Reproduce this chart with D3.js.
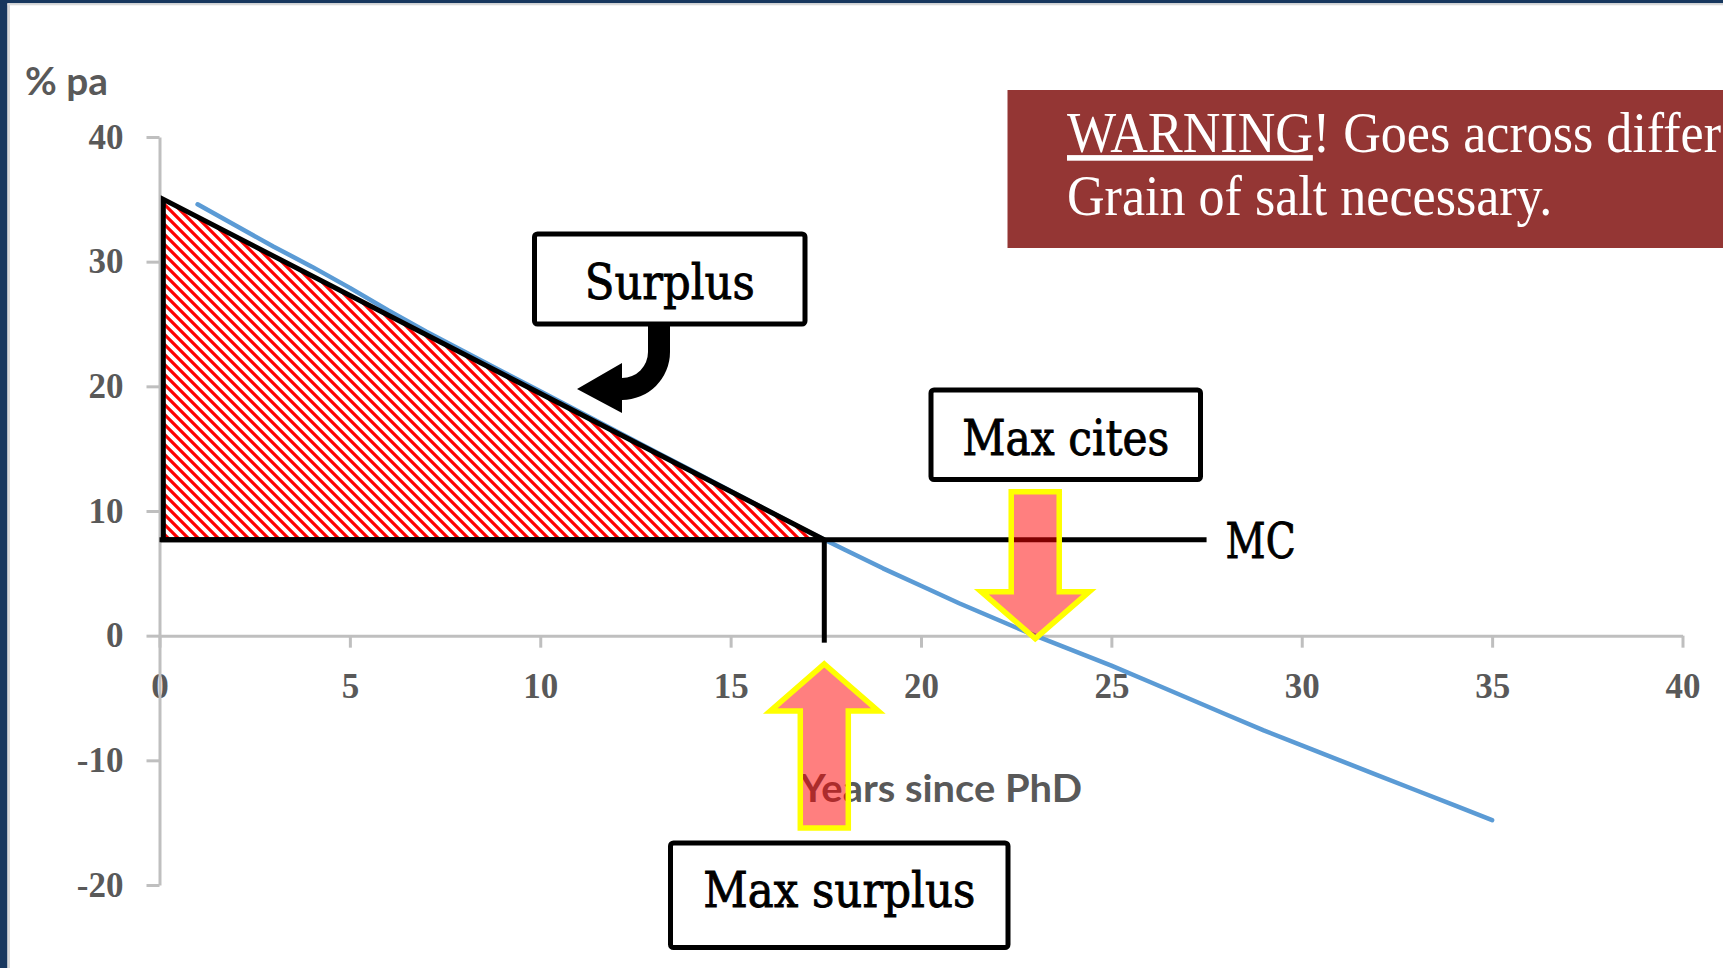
<!DOCTYPE html>
<html>
<head>
<meta charset="utf-8">
<title>Surplus vs marginal cost</title>
<script src="https://d3js.org/d3.v7.min.js"></script>
<style>
  body { margin: 0; background: #ffffff; overflow: hidden; }
  svg { display: block; }
  .axis path, .axis line { stroke: #bfbfbf; stroke-width: 3; }
  .axis text {
    font-family: "Liberation Serif", "Times New Roman", serif;
    font-weight: bold;
    font-size: 35px;
    fill: #595959;
  }
  .box-label {
    font-family: "DejaVu Serif", Cambria, serif;
    font-size: 48px;
    fill: #000;
    stroke: #000;
    stroke-width: 0.9;
  }
  .axis-label { font-family: Lato, Calibri, sans-serif; font-weight: bold; font-size: 38px; fill: #595959; }
</style>
</head>
<body>
<div id="chart"></div>
<script>
// Years since PhD vs % pa
const years = [1, 2, 3, 4, 5, 6, 7, 8, 9, 10, 11, 12, 13, 14, 15, 16, 17, 18,
               19, 20, 21, 22, 23, 24, 25, 26, 27, 28, 29, 30, 31, 32, 33, 34, 35];
const returns = [34.6, 32.9, 31.2, 29.6, 27.9, 26.1, 24.4, 22.8, 21.2, 19.6, 18.0, 16.4,
                 14.8, 13.2, 11.6, 10.0, 8.4, 6.9, 5.4, 4.0, 2.6, 1.3, 0.0, -1.2, -2.4,
                 -3.7, -5.0, -6.3, -7.6, -8.8, -10.0, -11.2, -12.4, -13.6, -14.8];

const xTicks = [0, 5, 10, 15, 20, 25, 30, 35, 40];
const yTicks = [-20, -10, 0, 10, 20, 30, 40];

// Marginal cost level and the two marked years
const mcLevel = 7.7;
const mcEndYear = 27.5;
const maxSurplusYear = 17.46;
const maxCitesYear = 23;
const surplusTop = 35;

const W = 1723, H = 968;

const svg = d3.select('#chart')
    .append('svg')
    .attr('width', W)
    .attr('height', H)
    .attr('viewBox', `0 0 ${W} ${H}`);

// Hatch fill for the surplus triangle
const defs = svg.append('defs');
const hatch = defs.append('pattern')
    .attr('id', 'hatch')
    .attr('patternUnits', 'userSpaceOnUse')
    .attr('width', 10)
    .attr('height', 10);
hatch.append('rect').attr('width', 10).attr('height', 10).attr('fill', '#ffffff');
hatch.append('path')
    .attr('d', 'M0,0 L10,10 M-3,7 L3,13 M7,-3 L13,3')
    .attr('stroke', '#ff0000')
    .attr('stroke-width', 3.2);

// Slide frame
svg.append('rect').attr('x', 0).attr('y', 0).attr('width', 7.5).attr('height', H).attr('fill', '#17375e');
svg.append('rect').attr('x', 0).attr('y', 0).attr('width', W).attr('height', 3.3).attr('fill', '#17375e');
svg.append('rect').attr('x', 7.5).attr('y', 3.3).attr('width', 2.5).attr('height', H).attr('fill', '#d9d9d9');
svg.append('rect').attr('x', 7.5).attr('y', 3.3).attr('width', W).attr('height', 2).attr('fill', '#d9d9d9');

// Scales
const x = d3.scaleLinear().domain([0, 40]).range([159.5, 1682.5]);
const y = d3.scaleLinear().domain([-20, 40]).range([885, 137]);

// Axes (plain hyphen for negatives, like the original)
const fmt = d => String(d);

svg.append('g')
    .attr('class', 'axis')
    .attr('transform', `translate(0,${y(0)})`)
    .call(d3.axisBottom(x).tickValues(xTicks).tickFormat(fmt)
        .tickSize(12).tickPadding(25).tickSizeOuter(0));

svg.append('g')
    .attr('class', 'axis')
    .attr('transform', `translate(${x(0)},0)`)
    .call(d3.axisLeft(y).tickValues(yTicks).tickFormat(fmt)
        .tickSize(13).tickPadding(23).tickSizeOuter(0));

svg.selectAll('.axis .domain').attr('fill', 'none');

// Axis titles
svg.append('text')
    .attr('class', 'axis-label')
    .attr('x', 25).attr('y', 95)
    .attr('textLength', 83).attr('lengthAdjust', 'spacingAndGlyphs')
    .text('% pa');

svg.append('text')
    .attr('class', 'axis-label')
    .attr('x', 800).attr('y', 802)
    .attr('textLength', 282).attr('lengthAdjust', 'spacingAndGlyphs')
    .text('Years since PhD');

// Returns line
const line = d3.line()
    .x((d, i) => x(years[i]))
    .y(d => y(d));

svg.append('path')
    .datum(returns)
    .attr('d', line)
    .attr('fill', 'none')
    .attr('stroke', '#5b9bd5')
    .attr('stroke-width', 4.5)
    .attr('stroke-linecap', 'round')
    .attr('stroke-linejoin', 'round');

// Surplus triangle
const triangle = [[0.1, surplusTop], [0.1, mcLevel], [maxSurplusYear, mcLevel]];
svg.append('path')
    .attr('d', d3.line().x(d => x(d[0])).y(d => y(d[1]))(triangle) + 'Z')
    .attr('fill', 'url(#hatch)')
    .attr('stroke', '#000')
    .attr('stroke-width', 5)
    .attr('stroke-linejoin', 'miter');

// MC line and the drop line at max surplus
svg.append('line')
    .attr('x1', x(0)).attr('x2', x(mcEndYear))
    .attr('y1', y(mcLevel)).attr('y2', y(mcLevel))
    .attr('stroke', '#000').attr('stroke-width', 5);

svg.append('line')
    .attr('x1', x(maxSurplusYear)).attr('x2', x(maxSurplusYear))
    .attr('y1', y(mcLevel)).attr('y2', y(0) + 7)
    .attr('stroke', '#000').attr('stroke-width', 5);

svg.append('text')
    .attr('class', 'box-label')
    .attr('x', x(mcEndYear) + 19).attr('y', 558)
    .attr('textLength', 70).attr('lengthAdjust', 'spacingAndGlyphs')
    .text('MC');

// Label boxes
const boxes = [
    { label: 'Surplus', x0: 534.5, y0: 234, x1: 805, y1: 324, ty: 299, tw: 170 },
    { label: 'Max cites', x0: 931, y0: 390, x1: 1200.5, y1: 479.5, ty: 455, tw: 207 },
    { label: 'Max surplus', x0: 670.5, y0: 843, x1: 1008, y1: 947.5, ty: 906.5, tw: 272 }
];

const boxG = svg.selectAll('g.box')
    .data(boxes)
    .enter()
    .append('g')
    .attr('class', 'box');

boxG.append('rect')
    .attr('x', d => d.x0).attr('y', d => d.y0)
    .attr('width', d => d.x1 - d.x0).attr('height', d => d.y1 - d.y0)
    .attr('rx', 3)
    .attr('fill', '#fff')
    .attr('stroke', '#000')
    .attr('stroke-width', 5);

boxG.append('text')
    .attr('class', 'box-label')
    .attr('x', d => (d.x0 + d.x1) / 2)
    .attr('y', d => d.ty)
    .attr('text-anchor', 'middle')
    .attr('textLength', d => d.tw)
    .attr('lengthAdjust', 'spacingAndGlyphs')
    .text(d => d.label);

// Curved arrow from the Surplus box
svg.append('path')
    .attr('d', 'M648,324 L648,352 A26,26 0 0 1 622,378 L622,363 L577,389 L622,413 L622,400 A48,48 0 0 0 670,352 L670,324 Z')
    .attr('fill', '#000');

// Block arrows
function blockArrow(cx, tipY, dir, headLen, shaftLen) {
    const hw = 54, sw = 24;
    const baseY = tipY - dir * headLen;
    const endY = baseY - dir * shaftLen;
    return `M${cx},${tipY} L${cx + hw},${baseY} L${cx + sw},${baseY} L${cx + sw},${endY} ` +
        `L${cx - sw},${endY} L${cx - sw},${baseY} L${cx - hw},${baseY} Z`;
}

svg.append('path')
    .attr('d', blockArrow(x(maxCitesYear), y(0) + 3, 1, 47, 100))
    .attr('fill', 'rgba(255,0,0,0.5)')
    .attr('stroke', '#ffff00')
    .attr('stroke-width', 5.5);

svg.append('path')
    .attr('d', blockArrow(x(maxSurplusYear), 664, -1, 47, 117))
    .attr('fill', 'rgba(255,0,0,0.5)')
    .attr('stroke', '#ffff00')
    .attr('stroke-width', 5.5);

// Warning banner (runs off the right edge, as in the original)
svg.append('rect')
    .attr('x', 1007.5).attr('y', 90)
    .attr('width', W - 1007.5).attr('height', 158)
    .attr('fill', '#943634');

const warn = svg.append('text')
    .attr('transform', 'translate(1067,152) scale(0.93,1)')
    .attr('font-family', '"Liberation Serif", "Times New Roman", serif')
    .attr('font-size', 56)
    .attr('fill', '#fff');

const line1 = warn.append('tspan').attr('x', 0).attr('y', 0);
line1.append('tspan').style('text-decoration', 'underline').text('WARNING');
line1.append('tspan').text('! Goes across different fields.');
warn.append('tspan').attr('x', 0).attr('y', 63).text('Grain of salt necessary.');
</script>
</body>
</html>
